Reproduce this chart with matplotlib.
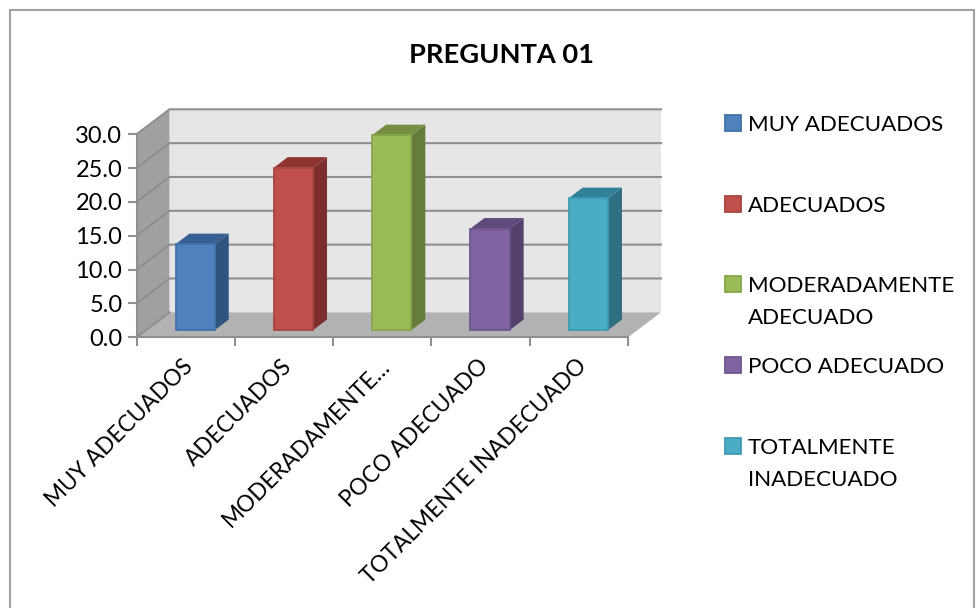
import matplotlib
matplotlib.use('Agg')
import matplotlib.pyplot as plt
from matplotlib.patches import Polygon, Rectangle
from matplotlib.transforms import Affine2D

categories = ['MUY ADECUADOS', 'ADECUADOS', 'MODERADAMENTE…', 'POCO ADECUADO', 'TOTALMENTE INADECUADO']
legend_labels = ['MUY ADECUADOS', 'ADECUADOS', 'MODERADAMENTE\nADECUADO', 'POCO ADECUADO', 'TOTALMENTE\nINADECUADO']
values = [12.7, 24.0, 28.8, 15.0, 19.5]
y_ticks = [0, 5, 10, 15, 20, 25, 30]
front_colors = ['#4f81bd', '#c0504d', '#9bbb59', '#8064a2', '#4bacc6']
edge_colors = ['#4272ab', '#aa4441', '#86a64a', '#6f5690', '#3f9ab3']
top_colors = ['#376092', '#8f3431', '#768e42', '#604a7b', '#338199']
side_colors = ['#2f5480', '#7b2e2c', '#667c3a', '#54406c', '#2e7082']
legend_y = [123, 204, 284, 365, 446]

GRID = '#8f8f8f'
FONT = 'Lato'
W, H = 980, 608

# depth of the fake 3d box, in data units per unit of depth
DX = 33 / 98.3
DY = 25 / 6.77
BAR_W = 0.4
Z0, Z1 = 0.29, 0.71


def proj(x, y, z):
    return (x + z * DX, y + z * DY)


def face(ax, pts, color, zorder, edge='none', lw=0):
    ax.add_patch(Polygon([proj(*p) for p in pts], closed=True, facecolor=color,
                         edgecolor=edge, linewidth=lw, zorder=zorder, clip_on=False))


fig = plt.figure(figsize=(W / 100, H / 100), dpi=100, facecolor='white')
ax = fig.add_axes([136.5 / W, 1 - 337.3 / H, 491.5 / W, 203 / H])
ax.set_facecolor('none')
ax.set_xlim(0, 5)
ax.set_ylim(0, 30)

# outer chart border
fig.add_artist(Rectangle((9.5 / W, -0.05), 964 / W, 1.05 - 9.5 / H, transform=fig.transFigure,
                         facecolor='none', edgecolor='#a0a0a0', linewidth=1.5))

# walls
top = y_ticks[-1]
n = len(categories)
face(ax, [(0, 0, 1), (n, 0, 1), (n, top, 1), (0, top, 1)], '#e6e6e6', 1)
face(ax, [(0, 0, 0), (0, 0, 1), (0, top, 1), (0, top, 0)], '#a0a0a0', 1)
face(ax, [(0, 0, 0), (n, 0, 0), (n, 0, 1), (0, 0, 1)], '#b2b2b2', 1)

for v in y_ticks:
    xs, ys = zip(proj(0, v, 0), proj(0, v, 1), proj(n, v, 1))
    if v == 0:
        xs, ys = xs[:2], ys[:2]
    ax.plot(xs, ys, color=GRID, linewidth=1.5, zorder=2, clip_on=False, solid_joinstyle='miter')

# bars
for i, v in enumerate(values):
    x0 = i + 0.5 - BAR_W / 2
    x1 = i + 0.5 + BAR_W / 2
    face(ax, [(x1, 0, Z0), (x1, 0, Z1), (x1, v, Z1), (x1, v, Z0)], side_colors[i], 3)
    face(ax, [(x0, v, Z0), (x1, v, Z0), (x1, v, Z1), (x0, v, Z1)], top_colors[i], 3)
    face(ax, [(x0, 0, Z0), (x1, 0, Z0), (x1, v, Z0), (x0, v, Z0)], front_colors[i], 4,
         edge=edge_colors[i], lw=1.3)

# axes
for s in ['top', 'right']:
    ax.spines[s].set_visible(False)
for s in ['left', 'bottom']:
    ax.spines[s].set_color(GRID)
    ax.spines[s].set_linewidth(1.5)
    ax.spines[s].set_zorder(5)

ax.set_yticks(y_ticks)
ax.set_yticklabels([f'{t:.1f}' for t in y_ticks], fontsize=17, family=FONT, color='black')
ax.set_xticks(range(n + 1))
ax.set_xticklabels([])
ax.set_xticks([i + 0.5 for i in range(n)], minor=True)
ax.set_xticklabels(categories, minor=True, rotation=45, ha='right', va='top',
                   rotation_mode='anchor', fontsize=16.3, family=FONT, color='black')
ax.tick_params(axis='both', which='major', color=GRID, width=1.5, length=6.2)
ax.tick_params(axis='y', pad=4)
ax.tick_params(axis='x', which='minor', length=0, pad=13)
# nudge the slanted labels a little to the left
for lbl in ax.get_xticklabels(minor=True):
    lbl.set_transform(lbl.get_transform() + Affine2D().translate(-3, 0))

fig.text(501.5 / W, 1 - 55 / H, 'PREGUNTA 01', fontsize=19.6, fontweight='bold', family=FONT,
         ha='center', va='center', color='black')

# legend, spacing is uneven so each row goes on its own
for lab, ly, c, e in zip(legend_labels, legend_y, front_colors, edge_colors):
    fig.add_artist(Rectangle((725 / W, 1 - (ly + 8) / H), 16 / W, 16 / H, transform=fig.transFigure,
                             facecolor=c, edgecolor=e, linewidth=1.3))
    fig.text(748 / W, 1 - (ly - 8) / H, lab, fontsize=16.1, family=FONT, ha='left', va='top',
             color='black', linespacing=1.75)

fig.savefig('out.png', dpi=100, facecolor='white')
